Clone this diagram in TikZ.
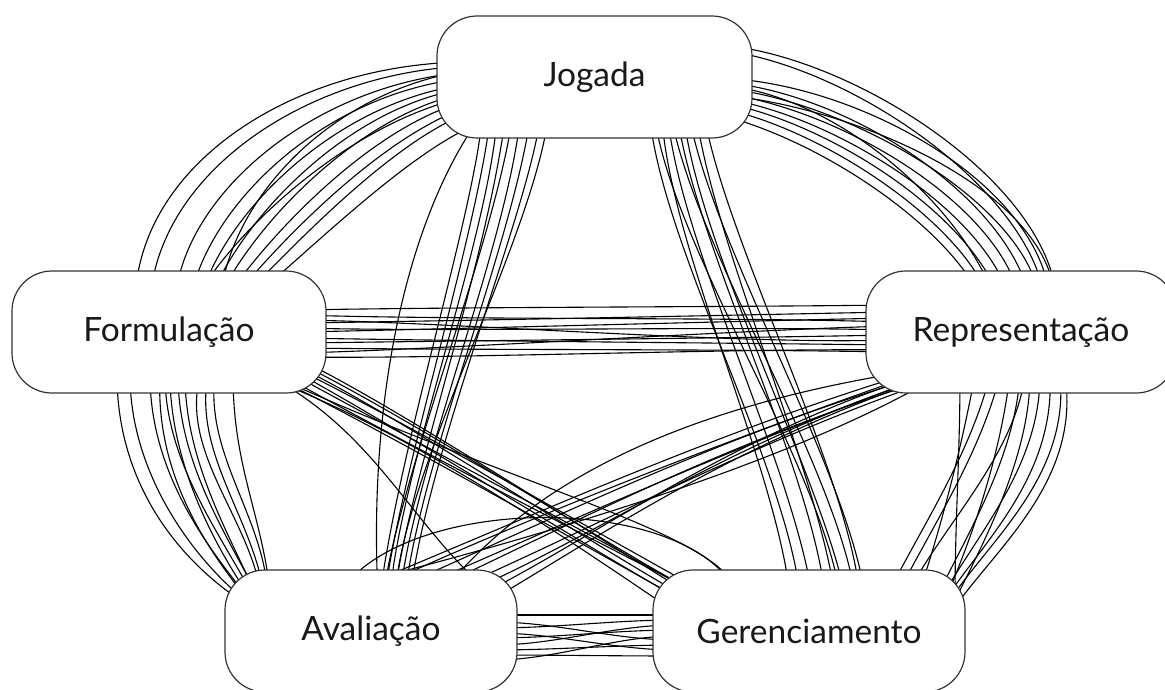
\documentclass[tikz,border=0pt]{standalone}
\usepackage{fontspec}
\setmainfont{Lato}
\usetikzlibrary{calc,backgrounds}
\tikzset{
  box/.style={draw=black!80, line width=1.2pt, fill=white, rounded corners=40pt,
    minimum height=122pt, inner sep=0pt, text=black!90,
    font=\fontsize{33.5}{40}\selectfont},
  edge/.style={draw=black, line width=1.1pt}
}
% #1 node from, (#2,#3) its centre; #4 node to, (#5,#6) its centre; #7 list
\newcommand\bundle[7]{%
  \foreach \a/\b/\c/\d/\e/\f/\g/\h in {#7}{%
    \draw[edge] ($(#1)+(\a-#2,\b-#3)$) .. controls +(\c,\d) and +(\e,\f) .. ($(#4)+(\g-#5,\h-#6)$);}}
\begin{document}
\begin{tikzpicture}[x=1pt,y=-1pt]
\useasboundingbox (0,0) rectangle (1165,689);
\node[box, minimum width=315pt] (J) at (594.5,77) {Jogada};
\node[box, minimum width=314pt] (F) at (169,332) {Formulação};
\node[box, minimum width=310pt] (R) at (1021,332) {Representação};
\node[box, minimum width=292pt] (A) at (371,631) {Avaliação};
\node[box, minimum width=312pt] (G) at (809,631) {Gerenciamento};
\begin{pgfonlayer}{background}
\fill[white] (0,0) rectangle (1165,689);
% Jogada -- Formulacao
\bundle{J}{594.5}{77}{F}{169}{332}{
470/62/-170/0/5/-140/135/300,
470/66/-160/5/10/-130/150/300,
470/72/-150/10/10/-110/175/300,
470/78/-140/12/20/-100/190/300,
470/84/-130/15/25/-90/200/300,
470/88/-120/15/30/-80/210/300,
470/92/-110/20/35/-75/218/300,
470/96/-120/25/40/-70/195/300,
470/100/-100/25/40/-60/225/300,
470/106/-90/30/45/-55/232/300,
470/112/-80/30/50/-50/240/300,
475/125/-70/30/55/-45/250/300,
470/70/-140/20/10/-100/220/300}
% Jogada -- Representacao
\bundle{J}{594.5}{77}{R}{1021}{332}{
720/45/130/10/-10/-120/1057/300,
720/50/130/15/-15/-110/1045/300,
720/78/140/5/-10/-115/1050/300,
720/82/130/10/-20/-100/1030/300,
720/88/120/10/-15/-100/1040/300,
720/93/120/15/-20/-95/1020/300,
720/98/110/15/-25/-90/1010/300,
720/102/110/20/-30/-85/1000/300,
720/108/100/20/-30/-80/990/300,
720/115/100/25/-35/-75/982/300,
720/95/130/10/-5/-110/1055/300,
720/85/120/10/-30/-90/995/300}
% Jogada -- Avaliacao
\bundle{J}{594.5}{77}{A}{371}{631}{
482/120/-10/100/20/-150/380/595,
490/120/-15/120/15/-120/385/595,
497/120/-10/120/10/-120/390/595,
505/120/-20/150/10/-100/395/595,
512/120/-20/130/20/-130/383/595,
520/120/-15/130/15/-130/400/595,
530/120/-20/130/15/-130/405/595,
540/120/-15/100/20/-150/410/595,
548/120/-20/130/10/-130/395/595,
478/120/-70/100/-10/-200/378/595}
% Jogada -- Gerenciamento
\bundle{J}{594.5}{77}{G}{809}{631}{
650/120/15/130/-15/-130/800/595,
655/120/20/130/-20/-130/840/595,
668/120/15/130/-20/-130/812/595,
672/120/25/130/-20/-130/855/595,
678/120/20/130/-15/-130/825/595,
684/120/20/140/-25/-120/845/595,
690/120/25/130/-20/-130/865/595,
697/120/20/130/-20/-130/835/595,
705/120/25/130/-15/-130/860/595,
662/120/10/130/-15/-130/790/595}
% Formulacao -- Representacao
\bundle{F}{169}{332}{R}{1021}{332}{
300/310/150/-3/-150/2/890/305,
300/315/150/5/-150/-5/890/322,
300/320/150/2/-150/5/890/340,
300/323/150/-2/-150/3/890/312,
300/328/150/4/-150/-4/890/330,
300/332/150/-3/-150/3/890/318,
300/338/150/3/-150/-2/890/345,
300/343/150/-2/-150/3/890/335,
300/348/150/2/-150/-3/890/352,
300/353/150/-4/-150/4/890/326,
300/357/150/2/-150/-2/890/350}
% Avaliacao -- Gerenciamento
\bundle{A}{371}{631}{G}{809}{631}{
495/615/60/0/-60/0/675/615,
495/622/60/0/-60/0/675/640,
495/628/60/0/-60/0/675/620,
495/633/60/0/-60/0/675/650,
495/638/60/0/-60/0/675/630,
495/645/60/0/-60/0/675/625,
495/650/60/0/-60/0/675/645,
495/655/60/0/-60/0/675/656,
495/660/60/0/-60/0/675/636,
335/600/60/-110/-40/-110/740/600}
% Formulacao -- Gerenciamento
\bundle{F}{169}{332}{G}{809}{631}{
305/362/100/50/-100/-60/700/600,
305/366/110/55/-110/-60/705/598,
305/370/100/50/-100/-55/695/602,
305/373/120/60/-100/-55/710/595,
305/377/100/55/-90/-50/690/605,
305/381/110/60/-100/-55/700/595,
300/385/100/55/-100/-50/712/600,
300/390/100/50/-90/-50/700/610,
300/388/250/110/0/-60/738/600,
285/385/150/60/-60/-40/665/605}
% Formulacao -- Avaliacao
\bundle{F}{169}{332}{A}{371}{631}{
117/375/0/110/-60/-40/240/600,
130/375/0/100/-50/-40/245/600,
150/375/0/100/-40/-50/250/600,
160/375/-5/100/-40/-50/248/600,
165/375/0/90/-30/-60/255/600,
170/375/0/90/-35/-50/252/600,
178/375/0/90/-30/-60/260/600,
185/375/0/90/-25/-60/258/600,
200/375/-20/80/-10/-80/262/600,
208/375/-15/80/-10/-80/265/600,
215/375/-10/80/-5/-80/268/595,
233/375/0/90/-10/-80/270/590,
285/385/100/60/-80/-60/500/600}
% Representacao -- Avaliacao
\bundle{R}{1021}{332}{A}{371}{631}{
905/375/-200/60/150/-60/340/595,
905/378/-200/70/150/-70/360/595,
905/381/-200/60/140/-60/380/595,
905/384/-190/70/140/-60/400/595,
905/387/-190/60/130/-60/420/595,
905/390/-180/65/130/-55/440/595,
905/385/-180/60/120/-50/460/595,
905/380/-180/60/110/-55/480/595,
905/386/-170/60/100/-60/500/595,
905/372/-250/40/80/-100/440/595,
910/392/-150/80/200/-50/330/590}
% Representacao -- Gerenciamento
\bundle{R}{1021}{332}{G}{809}{631}{
1060/375/10/100/40/-60/950/600,
1050/375/5/100/40/-60/945/600,
1040/375/0/90/40/-70/940/600,
1030/375/0/80/30/-60/955/600,
1020/375/-5/80/35/-70/935/600,
1010/375/-10/80/30/-70/945/600,
1000/375/-20/80/30/-60/900/590,
990/375/-20/80/30/-60/890/590,
960/375/0/80/0/-80/955/600,
1065/375/15/100/45/-60/960/600,
1025/375/-10/80/30/-60/910/590,
975/375/-15/80/20/-60/920/590}
\end{pgfonlayer}
\end{tikzpicture}
\end{document}
